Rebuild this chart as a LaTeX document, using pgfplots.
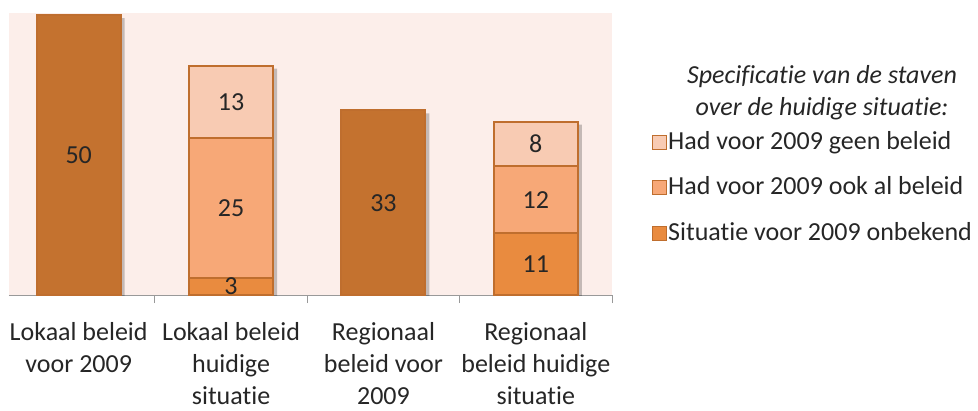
\documentclass[border=0pt]{standalone}
\usepackage{fontspec}
\setmainfont{Carlito}[Ligatures=NoCommon]
\usepackage{pgfplots}
\pgfplotsset{compat=1.18}
\definecolor{bgc}{HTML}{FCEEEA}
\definecolor{brd}{HTML}{BF6E2E}
\definecolor{dark}{HTML}{C4722F}
\definecolor{onbek}{HTML}{E98B3F}
\definecolor{ookal}{HTML}{F7A877}
\definecolor{geen}{HTML}{F8CBB3}
\definecolor{txt}{HTML}{262626}
\begin{document}
\fontsize{26}{32}\selectfont
\begin{tikzpicture}
\pgfplotsset{
  common/.style={
    width=603pt, height=282pt, scale only axis,
    at={(0,0)}, anchor=south west,
    xmin=-0.4574, xmax=3.5, ymin=0, ymax=50.4,
    bar width=84pt,
  },
  labels/.style={
    visualization depends on=rawy\as\rawy,
    nodes near coords={\pgfmathprintnumber[assume math mode=true]{\rawy}},
    every node near coord/.append style={anchor=center, text=txt,
      font=\fontsize{26}{32}\selectfont,
      shift={(axis direction cs:0,-\rawy/2)}},
  }
}
% background, axis line, ticks and bar shadows
\begin{axis}[common,
  ybar,
  axis background/.style={fill=bgc},
  axis x line*=bottom, axis y line=none,
  x axis line style={color=gray!80, line width=0.8pt},
  xtick={0,1,2,3},
  xticklabels={{Lokaal beleid\\voor 2009},{Lokaal beleid\\huidige\\situatie},{Regionaal\\beleid voor\\2009},{Regionaal\\beleid huidige\\situatie}},
  xticklabel style={align=center, text=txt, font=\fontsize{26}{32}\selectfont, yshift=-19pt},
  major tick length=0pt,
  minor xtick={0.5,1.5,2.5,3.5},
  minor tick length=8pt,
  tick align=outside,
  every tick/.style={gray!80, line width=0.8pt},
]
\addplot[fill=black, fill opacity=0.22, draw=none, bar shift=4pt, yshift=-3pt] coordinates {(0,50) (1,41) (2,33) (3,31)};
\end{axis}
\begin{axis}[common, labels,
  ybar stacked, hide axis,
  reverse legend,
  legend cell align=left,
  legend style={at={(1.0663,0.592)}, anchor=north west, draw=none, fill=none,
    font=\fontsize{26}{32}\selectfont, row sep=21.5pt, inner xsep=0pt,
    nodes={inner sep=1pt, text=txt}},
  legend image code/.code={\draw[#1, line width=1pt] (0pt,-7pt) rectangle (14pt,7pt);},
]
\addplot[fill=onbek, draw=brd, line width=2pt] coordinates {(1,3) (3,11)};
\addlegendentry{Situatie voor 2009 onbekend}
\addplot[fill=ookal, draw=brd, line width=2pt] coordinates {(1,25) (3,12)};
\addlegendentry{Had voor 2009 ook al beleid}
\addplot[fill=geen, draw=brd, line width=2pt] coordinates {(1,13) (3,8)};
\addlegendentry{Had voor 2009 geen beleid}
\end{axis}
\begin{axis}[common, labels, ybar, hide axis]
\addplot[fill=dark, draw=brd, line width=2pt] coordinates {(0,50) (2,33)};
\end{axis}
\node[font=\itshape\fontsize{26}{32}\selectfont, align=center, text=txt] at (813pt,202pt) {Specificatie van de staven\\over de huidige situatie:};
\pgfresetboundingbox
\path[use as bounding box] (-9pt,-115pt) rectangle (969pt,295pt);
\end{tikzpicture}
\end{document}
